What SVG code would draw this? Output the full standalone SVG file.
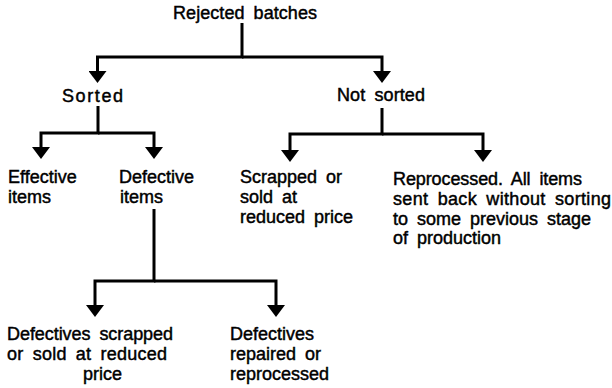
<svg xmlns="http://www.w3.org/2000/svg" width="612" height="388" viewBox="0 0 612 388">
<defs>
<style>
text{font-family:"Liberation Sans",Arial,sans-serif;font-size:18px;fill:#000;stroke:#000;stroke-width:0.45;word-spacing:4px}
.c{fill:none;stroke:#000;stroke-width:3;stroke-linejoin:miter}
</style>
<marker id="ah" markerUnits="userSpaceOnUse" markerWidth="12" markerHeight="18" viewBox="0 0 12 18" refX="0" refY="9" orient="auto">
<path d="M0,0 L12,9 L0,18 Z" fill="#000"/>
</marker>
</defs>
<rect width="612" height="388" fill="#fff"/>
<g id="connectors">
<path class="c" d="M242,23 V57 H97.5 V71" marker-end="url(#ah)"/>
<path class="c" d="M242,57 H382 V71" marker-end="url(#ah)"/>
<path class="c" d="M98,106 V133 H41 V147" marker-end="url(#ah)"/>
<path class="c" d="M98,133 H154 V147" marker-end="url(#ah)"/>
<path class="c" d="M382,108 V134 H290 V150" marker-end="url(#ah)"/>
<path class="c" d="M382,134 H483 V150" marker-end="url(#ah)"/>
<path class="c" d="M154,209 V281 H95 V305" marker-end="url(#ah)"/>
<path class="c" d="M154,281 H276 V305" marker-end="url(#ah)"/>
</g>
<g id="rejected"><text x="173" y="19" textLength="144" lengthAdjust="spacing">Rejected batches</text></g>
<g id="sorted"><text x="62" y="102" textLength="61" lengthAdjust="spacing">Sorted</text></g>
<g id="notsorted"><text x="337" y="101" textLength="88" lengthAdjust="spacing">Not sorted</text></g>
<g id="effective"><text x="8" y="183">Effective</text><text x="8" y="203">items</text></g>
<g id="defective"><text x="119" y="183">Defective</text><text x="120" y="203">items</text></g>
<g id="scrapped"><text x="240" y="183">Scrapped or</text><text x="240" y="203">sold at</text><text x="240" y="223">reduced price</text></g>
<g id="reprocessed"><text x="393" y="185" textLength="189" lengthAdjust="spacing">Reprocessed. All items</text><text x="393" y="205" textLength="218" lengthAdjust="spacing">sent back without sorting</text><text x="393" y="225">to some previous stage</text><text x="393" y="244">of production</text></g>
<g id="defscrapped"><text x="7" y="340" textLength="166" lengthAdjust="spacing">Defectives scrapped</text><text x="7" y="360" textLength="160" lengthAdjust="spacing">or sold at reduced</text><text x="83" y="380">price</text></g>
<g id="defrepaired"><text x="230" y="340">Defectives</text><text x="230" y="360">repaired or</text><text x="230" y="380">reprocessed</text></g>
</svg>
